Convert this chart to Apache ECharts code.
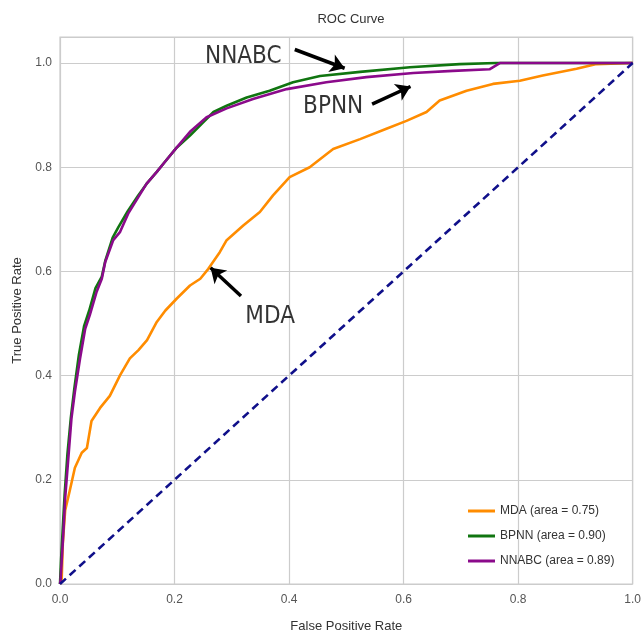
<!DOCTYPE html>
<html>
<head>
<meta charset="utf-8">
<script src="https://cdn.jsdelivr.net/npm/echarts@6/dist/echarts.min.js"></script>
<style>
  html, body { margin: 0; padding: 0; background: #fff; }
  #chart { width: 644px; height: 638px; }
</style>
</head>
<body>
<div id="chart"></div>
<script>
// ROC points, [false positive rate, true positive rate]
var mdaRoc = [[0, 0], [0.003, 0.01], [0.005, 0.08], [0.009, 0.141], [0.017, 0.179], [0.026, 0.223],
  [0.038, 0.252], [0.047, 0.261], [0.055, 0.313], [0.07, 0.338], [0.087, 0.361], [0.105, 0.401],
  [0.122, 0.433], [0.137, 0.449], [0.152, 0.468], [0.169, 0.503], [0.184, 0.525], [0.204, 0.548],
  [0.227, 0.573], [0.245, 0.586], [0.259, 0.605], [0.279, 0.637], [0.291, 0.66], [0.32, 0.688],
  [0.349, 0.714], [0.372, 0.746], [0.401, 0.781], [0.436, 0.8], [0.477, 0.835], [0.524, 0.854],
  [0.57, 0.874], [0.605, 0.889], [0.64, 0.906], [0.663, 0.928], [0.71, 0.947], [0.756, 0.96],
  [0.803, 0.966], [0.843, 0.976], [0.902, 0.989], [0.937, 0.998], [1, 1]]
var bpnnRoc = [[0, 0], [0.002, 0.05], [0.005, 0.11], [0.008, 0.17], [0.013, 0.25], [0.019, 0.32],
  [0.025, 0.375], [0.033, 0.44], [0.042, 0.495], [0.051, 0.525], [0.062, 0.568], [0.073, 0.59],
  [0.079, 0.62], [0.092, 0.665], [0.102, 0.685], [0.118, 0.715], [0.136, 0.745], [0.151, 0.768],
  [0.169, 0.791], [0.183, 0.81], [0.204, 0.838], [0.227, 0.861], [0.25, 0.886], [0.268, 0.906],
  [0.291, 0.918], [0.326, 0.934], [0.366, 0.947], [0.407, 0.963], [0.454, 0.975], [0.524, 0.983],
  [0.611, 0.992], [0.698, 0.998], [0.762, 1], [1, 1]]
var nnabcRoc = [[0, 0], [0.001, 0.008], [0.006, 0.101], [0.009, 0.165], [0.015, 0.248], [0.02, 0.318],
  [0.026, 0.369], [0.035, 0.433], [0.044, 0.49], [0.052, 0.516], [0.064, 0.561], [0.073, 0.586],
  [0.079, 0.618], [0.093, 0.66], [0.105, 0.676], [0.119, 0.711], [0.137, 0.743], [0.151, 0.768],
  [0.169, 0.791], [0.183, 0.81], [0.204, 0.838], [0.227, 0.868], [0.256, 0.896], [0.291, 0.913],
  [0.337, 0.931], [0.396, 0.95], [0.465, 0.963], [0.535, 0.973], [0.617, 0.981], [0.686, 0.985],
  [0.75, 0.988], [0.768, 1], [1, 1]]
var chanceLine = [[0, 0], [1, 1]]

var seriesNames = ['MDA (area = 0.75)', 'BPNN (area = 0.90)', 'NNABC (area = 0.89)']

// annotations: label position and arrow from -> to, in data units
var noteTexts = [
  { text: 'NNABC', at: [0.32, 1.012] },
  { text: 'BPNN', at: [0.477, 0.916] },
  { text: 'MDA', at: [0.367, 0.513] }
]
var noteArrows = [
  [[0.41, 1.026], [0.497, 0.99]],
  [[0.545, 0.921], [0.612, 0.955]],
  [[0.316, 0.553], [0.263, 0.607]]
]

var myChart = echarts.init(document.getElementById('chart'))

var font = 'Liberation Sans, Arial, sans-serif'
var option = {
  animation: false,
  backgroundColor: '#fff',
  title: {
    text: 'ROC Curve',
    left: 346,
    top: 8,
    textAlign: 'center',
    textStyle: { fontSize: 13, fontWeight: 'normal', color: '#333', fontFamily: font }
  },
  legend: {
    data: seriesNames,
    orient: 'vertical',
    left: 463,
    top: 500,
    itemWidth: 27,
    itemHeight: 3,
    itemGap: 13,
    icon: 'rect',
    textStyle: { fontSize: 12, color: '#333', fontFamily: font }
  },
  grid: {
    left: 60,
    right: 11,
    top: 37,
    bottom: 51,
    show: true,
    borderColor: '#cccccc',
    borderWidth: 1.2
  },
  xAxis: {
    type: 'value',
    min: 0,
    max: 1,
    interval: 0.2,
    name: 'False Positive Rate',
    nameLocation: 'middle',
    nameGap: 36,
    nameTextStyle: { fontSize: 13, color: '#333', fontFamily: font },
    axisLine: { show: false },
    axisTick: { show: false },
    axisLabel: {
      margin: 10,
      fontSize: 12,
      color: '#555',
      fontFamily: font,
      formatter: function (v) { return v.toFixed(1) }
    },
    splitLine: { lineStyle: { color: '#cccccc', width: 1.2 } }
  },
  yAxis: {
    type: 'value',
    min: 0,
    max: 1.05,
    interval: 0.2,
    name: 'True Positive Rate',
    nameLocation: 'middle',
    nameGap: 35,
    nameTextStyle: { fontSize: 13, color: '#333', fontFamily: font },
    axisLine: { show: false },
    axisTick: { show: false },
    axisLabel: {
      margin: 8,
      fontSize: 12,
      color: '#555',
      fontFamily: font,
      showMaxLabel: false,
      formatter: function (v) { return v > 1.01 ? '' : v.toFixed(1) }
    },
    splitLine: { lineStyle: { color: '#cccccc', width: 1.2 } }
  },
  series: [
    {
      name: seriesNames[0],
      type: 'line',
      data: mdaRoc,
      showSymbol: false,
      color: '#ff8c00',
      lineStyle: { width: 2.6, color: '#ff8c00' }
    },
    {
      name: seriesNames[1],
      type: 'line',
      data: bpnnRoc,
      showSymbol: false,
      color: '#107510',
      lineStyle: { width: 2.6, color: '#107510' }
    },
    {
      name: seriesNames[2],
      type: 'line',
      data: nnabcRoc,
      showSymbol: false,
      color: '#8b0a8b',
      lineStyle: { width: 2.6, color: '#8b0a8b' }
    },
    {
      name: 'chance',
      type: 'line',
      data: chanceLine,
      showSymbol: false,
      lineStyle: { width: 2.6, color: '#10108a', type: [8, 5] }
    },
    {
      name: 'noteText',
      type: 'scatter',
      symbolSize: 1,
      itemStyle: { color: 'rgba(0,0,0,0)' },
      data: noteTexts.map(function (n) { return { value: n.at, name: n.text } }),
      label: {
        show: true,
        position: 'inside',
        formatter: function (p) { return p.name },
        fontSize: 24,
        color: '#000',
        textBorderWidth: 0,
        fontFamily: 'DejaVu Sans Condensed, DejaVu Sans, sans-serif'
      }
    },
    {
      name: 'noteArrow',
      type: 'line',
      data: [],
      markLine: {
        silent: true,
        symbol: ['none', 'arrow'],
        symbolSize: 14,
        label: { show: false },
        lineStyle: { color: '#000', width: 3.5, type: 'solid' },
        data: noteArrows.map(function (a) { return [{ coord: a[0] }, { coord: a[1] }] })
      }
    }
  ]
}
myChart.setOption(option)
</script>
</body>
</html>
